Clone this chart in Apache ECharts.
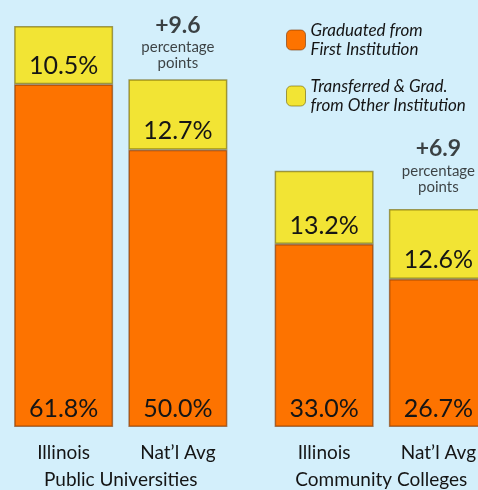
<!DOCTYPE html>
<html>
<head>
<meta charset="utf-8">
<script src="https://cdn.jsdelivr.net/npm/echarts@6/dist/echarts.min.js"></script>
<style>
html,body{margin:0;padding:0;background:#d3effb;}
#chart{width:478px;height:490px;}
</style>
</head>
<body>
<div id="chart"></div>
<script>
const categoriesPU = ['Illinois', 'Nat\u2019l Avg'];
const categoriesCC = ['Illinois', 'Nat\u2019l Avg'];
const groupNames = ['Public Universities', 'Community Colleges'];
const seriesNames = ['Graduated from\nFirst Institution', 'Transferred & Grad.\nfrom Other Institution'];
const graduatedPU = [61.8, 50.0];
const transferredPU = [10.5, 12.7];
const graduatedCC = [33.0, 26.7];
const transferredCC = [13.2, 12.6];
const gapPU = ['', '+9.6'];
const gapCC = ['', '+6.9'];

const FONT = 'Lato, "DejaVu Sans", sans-serif';
const ORANGE = '#fd7300';
const YELLOW = '#f2e434';
const TXT = '#151515';

function pctLabel(dist) {
  return {
    show: true, position: 'insideBottom', distance: dist,
    formatter: p => p.value.toFixed(1) + '%',
    fontFamily: FONT, fontSize: 25, color: TXT
  };
}
function barSeries(name, data, color, idx, dist, border) {
  return {
    name: name, type: 'bar', stack: 's' + idx, data: data,
    xAxisIndex: idx, yAxisIndex: idx, barWidth: 99,
    itemStyle: { color: color, borderColor: border, borderWidth: 1.5 },
    label: pctLabel(dist), emphasis: { disabled: true }
  };
}
function annSeries(gaps, a, b, idx, dist) {
  return {
    type: 'scatter', xAxisIndex: idx, yAxisIndex: idx, symbolSize: 0,
    data: a.map((v, i) => ({ value: v + b[i], gap: gaps[i] })),
    label: {
      show: true, position: 'top', distance: dist,
      formatter: p => p.data.gap ? '{big|' + p.data.gap + '}\n{small|percentage}\n{small|points}' : '',
      rich: {
        big: { fontFamily: FONT, fontSize: 23, fontWeight: 'bold', color: TXT, lineHeight: 28, align: 'center' },
        small: { fontFamily: FONT, fontSize: 15, color: TXT, lineHeight: 16, align: 'center' }
      }
    },
    silent: true
  };
}
function xAx(cats, gi, name) {
  return {
    type: 'category', gridIndex: gi, data: cats,
    axisLine: { show: false }, axisTick: { show: false },
    axisLabel: { fontFamily: FONT, fontSize: 19, color: TXT, margin: 16 },
    name: name, nameLocation: 'middle', nameGap: 43,
    nameTextStyle: { fontFamily: FONT, fontSize: 19, color: TXT }
  };
}
function yAx(gi) {
  return { type: 'value', gridIndex: gi, min: 0, max: 77, show: false, splitLine: { show: false } };
}

const chart = echarts.init(document.getElementById('chart'), null, { renderer: 'canvas' });
chart.setOption({
  backgroundColor: '#d3effb',
  animation: false,
  grid: [
    { left: 6.5, width: 228.5, top: 0, bottom: 63, containLabel: false, outerBoundsMode: 'none' },
    { left: 267, right: -17.5, top: 0, bottom: 63, containLabel: false, outerBoundsMode: 'none' }
  ],
  xAxis: [xAx(categoriesPU, 0, groupNames[0]), xAx(categoriesCC, 1, groupNames[1])],
  yAxis: [yAx(0), yAx(1)],
  legend: {
    data: seriesNames, orient: 'vertical', left: 281, top: 16,
    itemWidth: 19, itemHeight: 20, itemGap: 18,
    textStyle: { fontFamily: FONT, fontSize: 17, fontStyle: 'italic', color: TXT, lineHeight: 19 },
    itemStyle: { borderWidth: 1 }
  },
  series: [
    barSeries(seriesNames[0], graduatedPU, ORANGE, 0, 6, 'rgba(120,50,0,0.6)'),
    barSeries(seriesNames[1], transferredPU, YELLOW, 0, 6, 'rgba(110,95,0,0.6)'),
    annSeries(gapPU, graduatedPU, transferredPU, 0, 8),
    barSeries(seriesNames[0], graduatedCC, ORANGE, 1, 6, 'rgba(120,50,0,0.6)'),
    barSeries(seriesNames[1], transferredCC, YELLOW, 1, 6, 'rgba(110,95,0,0.6)'),
    annSeries(gapCC, graduatedCC, transferredCC, 1, 14)
  ]
});
</script>
</body>
</html>
